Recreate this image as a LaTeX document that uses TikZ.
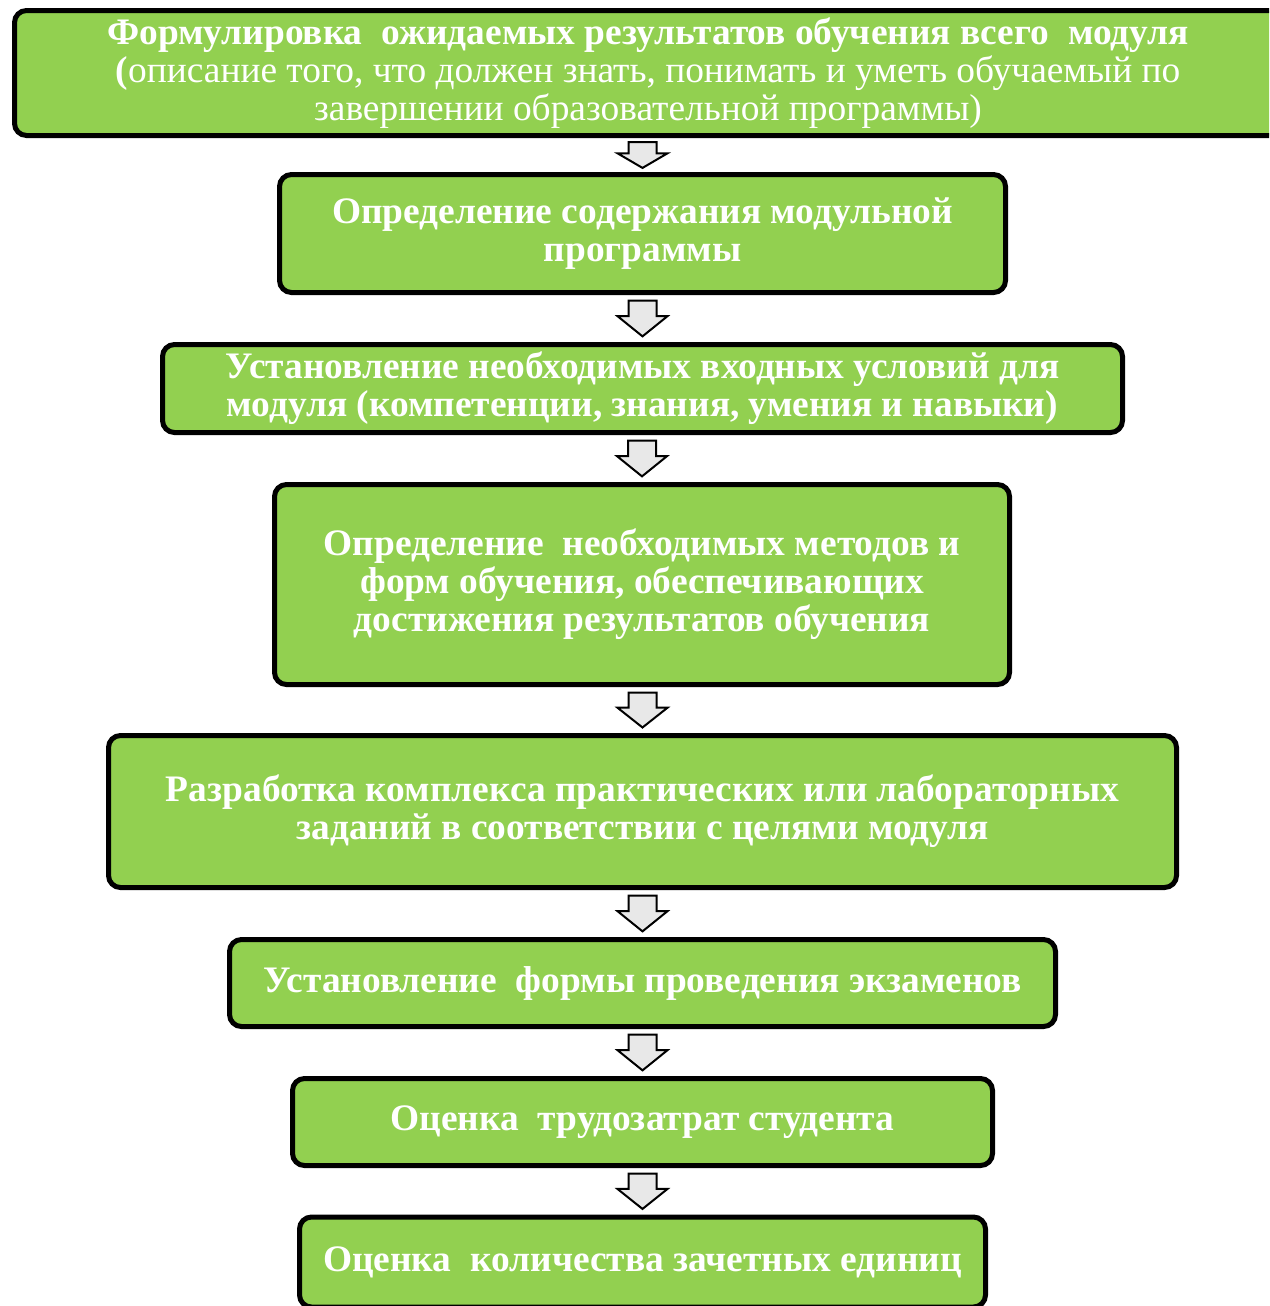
\documentclass[tikz,border=0pt]{standalone}
\usepackage{fontspec}
\setmainfont{Liberation Serif}
\usetikzlibrary{calc}

\definecolor{stepgreen}{HTML}{92D050}
\definecolor{arrowgrey}{HTML}{E8E8E8}

% block arrow between two boxes
\newcommand{\stepdown}[2]{%
	\path ($(#1.south)!0.12!(#2.north)$) coordinate (at)
		($(#1.south)!0.45!(#2.north)$) coordinate (ab)
		($(#1.south)!0.88!(#2.north)$) coordinate (ah);
	\draw[blockarrow] ([xshift=-7pt]at -| #2.north) -- ([xshift=7pt]at -| #2.north)
		-- ([xshift=7pt]ab -| #2.north) -- ([xshift=12.5pt]ab -| #2.north)
		-- (ah -| #2.north) -- ([xshift=-12.5pt]ab -| #2.north)
		-- ([xshift=-7pt]ab -| #2.north) -- cycle;
}

\begin{document}
\begin{tikzpicture}[x=0.5pt,y=-0.5pt,
		stepbox/.style={draw=black,line width=2.5pt,rounded corners=6pt,fill=stepgreen,
			text=white,font=\fontsize{18.7}{19}\selectfont\bfseries,align=center,inner sep=0pt},
		blockarrow/.style={draw=black,line width=1pt,fill=arrowgrey}]
	\useasboundingbox (0,0) rectangle (1269,1306);
	\clip (0,0) rectangle (1269,1306);
	\fill[color=white] (0,0) rectangle (1269,1306);
	\node[stepbox,minimum width=633.5pt,minimum height=62.5pt] (goals) at (648,73)
		{Формулировка\ \ ожидаемых результатов обучения всего\ \ модуля\\
		(\mdseries описание того, что должен знать, понимать и уметь обучаемый по\\
		\mdseries завершении образовательной программы)};
	\node[stepbox,minimum width=363pt,minimum height=59pt] (content) at (642.5,233.5)
		{Определение содержания модульной\\ программы};
	\node[stepbox,minimum width=480pt,minimum height=44pt] (entry) at (642.5,388.5)
		{Установление необходимых входных условий для\\ модуля (компетенции, знания, умения и навыки)};
	\node[stepbox,minimum width=367.5pt,minimum height=100pt] (methods) at (642,584.5)
		{Определение\ \ необходимых методов и\\ форм обучения, обеспечивающих\\ достижения результатов обучения};
	\node[stepbox,minimum width=534pt,minimum height=76pt] (tasks) at (642.5,811.5)
		{Разработка комплекса практических или лабораторных\\ заданий в соответствии с целями модуля};
	\node[stepbox,minimum width=413pt,minimum height=43.5pt] (exams) at (642.5,983)
		{Установление\ \ формы проведения экзаменов};
	\node[stepbox,minimum width=350pt,minimum height=43.5pt] (workload) at (642.5,1122)
		{Оценка\ \ трудозатрат студента};
	\node[stepbox,minimum width=343pt,minimum height=45pt] (credits) at (642.5,1262)
		{Оценка\ \ количества зачетных единиц};
	\stepdown{goals}{content}
	\stepdown{content}{entry}
	\stepdown{entry}{methods}
	\stepdown{methods}{tasks}
	\stepdown{tasks}{exams}
	\stepdown{exams}{workload}
	\stepdown{workload}{credits}
\end{tikzpicture}
\end{document}
